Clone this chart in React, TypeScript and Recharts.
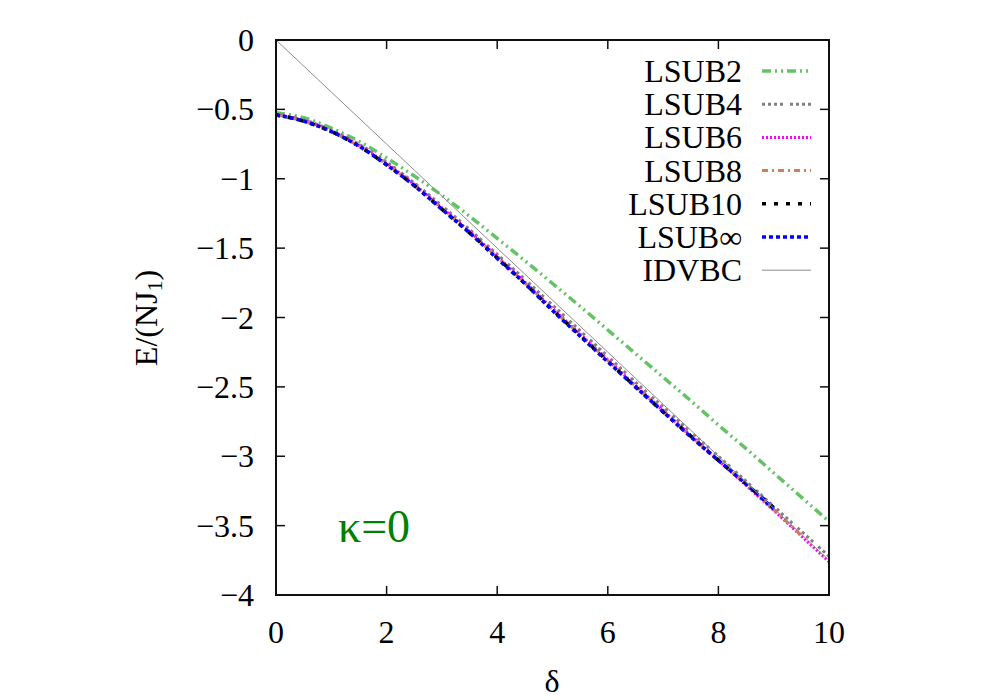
import React from "react";
import { LineChart, Line, XAxis, YAxis } from "recharts";

const delta = [0, 0.5, 1, 1.5, 2, 2.5, 3, 3.5, 4, 4.5, 5, 5.5, 6, 6.5, 7, 7.5, 8, 8.5, 9, 9.5, 10];
const lsub2 = [-0.525, -0.56, -0.635, -0.73, -0.85, -0.98, -1.12, -1.27, -1.43, -1.59, -1.755, -1.92, -2.09, -2.26, -2.43, -2.6, -2.775, -2.945, -3.12, -3.295, -3.47];
const lsub4 = [-0.535, -0.575, -0.65, -0.75, -0.88, -1.03, -1.195, -1.365, -1.545, -1.725, -1.91, -2.095, -2.28, -2.465, -2.645, -2.825, -3.0, -3.18, -3.36, -3.54, -3.72];
const lsub6 = [-0.535, -0.58, -0.655, -0.76, -0.89, -1.04, -1.21, -1.38, -1.56, -1.745, -1.935, -2.12, -2.305, -2.49, -2.67, -2.85, -3.03, -3.21, -3.39, -3.575, -3.76];
const lsub8 = [-0.54, -0.585, -0.66, -0.765, -0.895, -1.045, -1.215, -1.385, -1.565, -1.75, -1.94, -2.125, -2.31, -2.495, -2.675, -2.855, -3.03, -3.205, -3.385, -3.57, null];
const lsub10 = [-0.54, -0.585, -0.66, -0.765, -0.9, -1.05, -1.22, -1.39, -1.57, -1.755, -1.945, -2.13, -2.315, -2.5, -2.68, -2.855, -3.03, -3.2, -3.37, null, null];
const lsubInf = [-0.54, -0.585, -0.66, -0.765, -0.9, -1.05, -1.22, -1.39, -1.575, -1.755, -1.95, -2.135, -2.32, -2.5, -2.68, -2.86, -3.03, -3.2, -3.38, null, null];
const idvbc = [0, -0.1875, -0.375, -0.5625, -0.75, -0.9375, -1.125, -1.3125, -1.5, -1.6875, -1.875, -2.0625, -2.25, -2.4375, -2.625, -2.8125, -3.0, -3.1875, -3.375, -3.5625, -3.75];

const xTicks = [0, 2, 4, 6, 8, 10];
const yTicks = [0, -0.5, -1, -1.5, -2, -2.5, -3, -3.5, -4];
const X_DOMAIN = [0, 10];
const Y_DOMAIN = [-4, 0];

const series = [
  { key: "lsub2", name: "LSUB2", color: "#66c266", width: 3.5, dash: "9 4 2 4 2 4" },
  { key: "lsub4", name: "LSUB4", color: "#808080", width: 3, dash: "3 3 3 3 3 3 3 7" },
  { key: "lsub6", name: "LSUB6", color: "#ff00ff", width: 3, dash: "2 2" },
  { key: "lsub8", name: "LSUB8", color: "#cd7f5c", width: 3, dash: "6 4 2 4" },
  { key: "lsub10", name: "LSUB10", color: "#000000", width: 3.5, dash: "4 8" },
  { key: "lsubInf", name: "LSUB\u221e", color: "#0000ff", width: 3.5, dash: "4 3" },
  { key: "idvbc", name: "IDVBC", color: "#8c8c8c", width: 1, dash: undefined as string | undefined },
];

const data = delta.map((d, i) => ({
  delta: d,
  lsub2: lsub2[i],
  lsub4: lsub4[i],
  lsub6: lsub6[i],
  lsub8: lsub8[i],
  lsub10: lsub10[i],
  lsubInf: lsubInf[i],
  idvbc: idvbc[i],
}));

const FONT = "'Liberation Serif', 'Times New Roman', 'DejaVu Serif', serif";
const FS = 32;
const TICK = 9;
const PLOT_TOP = 40;
const PLOT_BOTTOM = 595;
const PLOT_LEFT = 276;
const PLOT_RIGHT = 829;
const INK = "#111111";

const txt = { fontFamily: FONT, fontSize: FS, fill: "#000000" } as const;

const fmt = (v: number) => (v < 0 ? "\u2212" + String(-v) : String(v));

const renderBottomTick = (props: any) => {
  const { x, payload } = props;
  return (
    <text x={x} y={PLOT_BOTTOM + 48} textAnchor="middle" style={txt}>
      {fmt(payload.value)}
    </text>
  );
};

const renderLeftTick = (props: any) => {
  const { y, payload } = props;
  return (
    <text x={PLOT_LEFT - 22} y={y} textAnchor="end" dominantBaseline="central" style={txt}>
      {fmt(payload.value)}
    </text>
  );
};

const YLabel = () => (
  <text
    transform="translate(146,318) rotate(-90)"
    textAnchor="middle"
    dominantBaseline="central"
    style={txt}
  >
    E/(NJ
    <tspan dy={8} style={{ fontSize: 22 }}>1</tspan>
    <tspan dy={-8}>)</tspan>
  </text>
);

const XLabel = () => (
  <text x={552} y={692} textAnchor="middle" style={txt}>
    {"\u03b4"}
  </text>
);

const sx = (v: number) => PLOT_LEFT + ((v - X_DOMAIN[0]) / (X_DOMAIN[1] - X_DOMAIN[0])) * (PLOT_RIGHT - PLOT_LEFT);
const sy = (v: number) => PLOT_TOP + ((Y_DOMAIN[1] - v) / (Y_DOMAIN[1] - Y_DOMAIN[0])) * (PLOT_BOTTOM - PLOT_TOP);

export default function App() {
  const W = PLOT_RIGHT - PLOT_LEFT;
  const H = PLOT_BOTTOM - PLOT_TOP;
  return (
    <div style={{ position: "absolute", left: 0, top: 0, width: 1000, height: 700, background: "#ffffff" }}>
      <LineChart
        width={1000}
        height={700}
        data={data}
        margin={{ top: PLOT_TOP, right: 1000 - PLOT_RIGHT, bottom: 0, left: 0 }}
      >
        <XAxis
          dataKey="delta"
          type="number"
          domain={X_DOMAIN}
          ticks={xTicks}
          height={700 - PLOT_BOTTOM}
          tickSize={0}
          tickMargin={0}
          tick={renderBottomTick}
          axisLine={false}
          tickLine={false}
          label={XLabel}
        />
        <YAxis
          type="number"
          domain={Y_DOMAIN}
          ticks={yTicks}
          width={PLOT_LEFT}
          tickSize={0}
          tickMargin={0}
          tick={renderLeftTick}
          axisLine={false}
          tickLine={false}
          label={YLabel}
        />
        {series.map((s) => (
          <Line
            key={s.key}
            dataKey={s.key}
            name={s.name}
            type="monotone"
            stroke={s.color}
            strokeWidth={s.width}
            strokeDasharray={s.dash}
            dot={false}
            activeDot={false}
            isAnimationActive={false}
            connectNulls={false}
          />
        ))}
      </LineChart>
      <svg
        width={1000}
        height={700}
        style={{ position: "absolute", left: 0, top: 0, pointerEvents: "none" }}
      >
        <g fill={INK} stroke="none">
          <rect x={PLOT_LEFT - 1} y={PLOT_TOP - 1} width={W + 2} height={2} />
          <rect x={PLOT_LEFT - 1} y={PLOT_BOTTOM - 1} width={W + 2} height={2} />
          <rect x={PLOT_LEFT - 1} y={PLOT_TOP - 1} width={2} height={H + 2} />
          <rect x={PLOT_RIGHT - 1} y={PLOT_TOP - 1} width={2} height={H + 2} />
          {xTicks.map((v) => (
            <g key={"xt" + v}>
              <rect x={sx(v) - 0.75} y={PLOT_BOTTOM - TICK} width={1.5} height={TICK} />
              <rect x={sx(v) - 0.75} y={PLOT_TOP} width={1.5} height={TICK} />
            </g>
          ))}
          {yTicks.map((v) => (
            <g key={"yt" + v}>
              <rect x={PLOT_LEFT} y={sy(v) - 0.75} width={TICK} height={1.5} />
              <rect x={PLOT_RIGHT - TICK} y={sy(v) - 0.75} width={TICK} height={1.5} />
            </g>
          ))}
        </g>
        {series.map((s, i) => {
          const cy = 71 + i * 33.2;
          return (
            <g key={s.key}>
              <text x={742} y={cy} textAnchor="end" dominantBaseline="central" style={txt}>
                {s.name}
              </text>
              <line x1={762} y1={cy} x2={811} y2={cy} stroke={s.color} strokeWidth={s.width} strokeDasharray={s.dash} />
            </g>
          );
        })}
        <text x={338} y={542} style={{ fontFamily: FONT, fontSize: 46, fill: "#008000" }}>
          {"\u03ba=0"}
        </text>
      </svg>
    </div>
  );
}
